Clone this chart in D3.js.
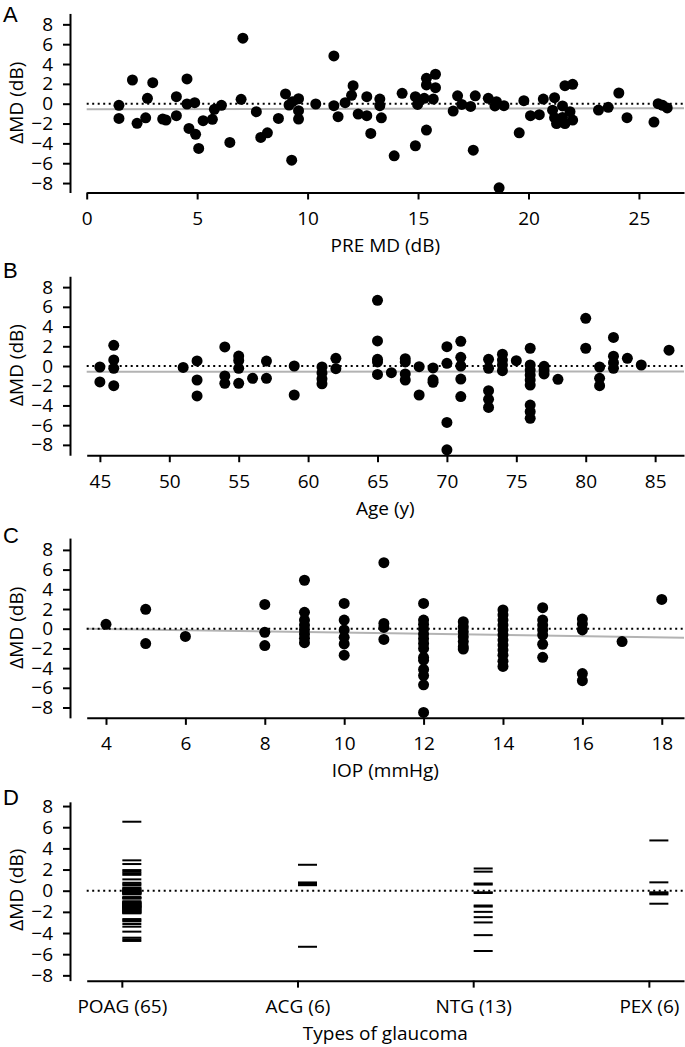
<!DOCTYPE html>
<html><head><meta charset="utf-8">
<script src="https://cdn.jsdelivr.net/npm/d3@7"></script>
<style>body{margin:0;background:#fff} text{font-family:'Open Sans',sans-serif;fill:#000}</style>
</head><body><svg id="c" width="685" height="1047"></svg>
<script>
// ---------- DATA ----------
const yTicks = [-8,-6,-4,-2,0,2,4,6,8];

// Panel A: PRE MD (dB) vs ΔMD
const preMD = [1.46,1.46,2.07,2.28,2.75,2.67,2.99,3.44,3.59,4.06,
4.06,4.54,4.54,4.89,4.63,4.93,5.07,5.27,5.69,5.78,
6.10,6.48,7.07,6.99,7.68,7.88,8.18,8.68,9.00,9.28,
9.16,9.31,9.59,9.59,9.59,10.37,11.19,11.19,11.38,11.70,
11.99,12.06,12.29,12.68,12.68,12.86,13.27,13.27,13.34,13.92,
14.28,14.88,14.88,14.98,15.28,15.38,15.38,15.38,15.69,15.79,
15.79,16.59,16.79,16.98,17.38,17.50,17.59,18.18,18.55,18.48,
18.89,18.67,19.58,19.79,20.09,20.49,20.67,21.18,21.09,21.18,
21.27,21.54,21.65,22.00,21.65,21.88,22.00,21.54,23.17,23.61,
24.09,24.46,25.68,25.87,26.07,26.28];
const deltaA = [-0.16,-1.48,2.39,-1.98,0.54,-1.42,2.12,-1.55,-1.65,0.71,
-1.21,2.50,-0.03,0.10,-2.49,-3.09,-4.51,-1.71,-1.58,-0.57,
-0.16,-3.90,6.60,0.44,-0.81,-3.40,-2.93,-1.48,0.98,-5.69,
-0.13,0.20,0.50,-0.70,-1.55,-0.03,4.82,-0.20,-1.31,0.10,
0.85,1.82,-1.04,0.71,-1.21,-3.00,0.47,-0.20,-1.42,-5.25,
1.05,-4.24,0.71,-0.07,0.54,2.56,1.89,-2.66,0.47,2.97,
1.62,-0.74,0.79,-0.07,-0.27,-4.68,0.79,0.54,0.20,-0.23,
-0.20,-8.48,-2.93,0.30,-1.21,-1.11,0.47,0.61,-0.65,-1.41,
-2.00,-0.23,1.82,1.95,-2.00,-0.81,-1.65,-1.38,-0.64,-0.37,
1.08,-1.41,-1.85,0.00,-0.16,-0.43];
const fitA = [-0.55, -0.47];      // regression line ΔMD at x-domain ends
const ticksA = [0,5,10,15,20,25];

// Panel B: Age (y) vs ΔMD
const ages = [45,45, 46,46,46,46, 51, 52,52,52, 54,54,54, 55,55,55,55, 56, 57,57, 59,59,
61,61,61,61, 62,62, 65,65,65,65,65, 66, 67,67,67,67, 68,68, 69,69,69, 70,70,70,70,
71,71,71,71,71, 73,73,73,73,73, 74,74,74,74, 75, 76,76,76,76,76,76,76,76,76,
77,77,77, 78, 80,80, 81,81,81, 82,82,82,82, 83, 84, 86];
const deltaB = [-0.10,-1.62, 2.10,0.61,-0.24,-2.00, -0.14, 0.51,-1.42,-3.04, 1.93,-1.01,-1.76,
1.01,0.57,-0.24,-1.76, -1.25, 0.50,-1.25, 0.00,-2.94,
-0.10,-0.70,-1.30,-1.80, 0.78,-0.27, 6.66,2.54,0.68,0.41,-0.85, -0.68, 0.74,0.41,-0.81,-1.42,
-0.07,-2.94, -0.20,-1.40,-1.65, 1.96,0.27,-5.72,-8.50,
2.50,0.88,0.00,-1.32,-3.10, 0.68,-0.24,-2.50,-3.38,-4.20, 1.20,0.60,0.10,-0.47, 0.54,
1.80,0.10,-0.41,-0.91,-1.42,-1.93,-3.96,-4.63,-5.31,
-0.03,-0.40,-0.80, -1.35, 4.84,1.80, -0.10,-1.25,-2.00, 2.90,1.00,0.34,-0.24, 0.78, 0.10, 1.60];
const fitB = [-0.58, -0.55];
const ticksB = [45,50,55,60,65,70,75,80,85];

// Panel C: IOP (mmHg) vs ΔMD
const iop = [4, 5,5, 6, 8,8,8, 9,9,9,9,9,9,9,9, 10,10,10,10,10,10, 11,11,11,11,
12,12,12,12,12,12,12,12,12,12,12,12,12,12, 13,13,13,13,13,13,13,
14,14,14,14,14,14,14,14,14,14,14,14, 15,15,15,15,15,15,15, 16,16,16,16,16, 17, 18];
const deltaC = [0.45, 1.97,-1.51, -0.78, 2.46,-0.36,-1.71,
4.92,1.66,0.88,0.37,-0.07,-0.54,-0.98,-1.42,
2.57,0.88,-0.13,-0.88,-1.55,-2.69, 6.70,0.54,0.13,-1.09,
2.57,0.88,0.45,-0.03,-0.54,-1.01,-1.49,-2.00,-2.90,-3.20,-4.14,-4.76,-5.70,-8.50,
0.71,0.20,-0.30,-0.81,-1.31,-1.82,-2.07,
1.90,1.39,0.88,0.37,-0.13,-0.64,-1.15,-1.66,-2.17,-2.69,-3.30,-3.83,
2.13,0.88,0.37,-0.13,-0.64,-1.58,-2.90, 0.98,0.48,-0.13,-4.56,-5.28, -1.31, 2.97];
const fitC = [0.0, -0.91];
const ticksC = [4,6,8,10,12,14,16,18];

// Panel D: types of glaucoma
const types = ["POAG (65)", "ACG (6)", "NTG (13)", "PEX (6)"];
const poag = [6.52,2.87,2.52,1.95,1.80,1.65,1.50,1.07,0.75,0.62,0.50,
0.28,0.20,0.12,0.05,0.00,-0.05,-0.10,-0.15,-0.16,-0.20,-0.25,-0.30,-0.35,
-0.60,-0.65,-0.70,-0.75,
-1.00,-1.05,-1.10,-1.15,-1.20,-1.21,-1.25,-1.30,-1.35,-1.40,-1.42,-1.45,-1.50,-1.55,-1.55,-1.60,
-1.65,-1.70,-1.75,-1.80,-1.85,-1.90,-1.95,-2.00,-2.05,-2.10,-2.14,
-2.68,-2.80,-2.90,-3.15,-3.40,-3.87,-4.44,-4.60,-4.75];
const acg = [2.45,0.78,0.68,0.60,0.52,-5.30];
const ntg = [2.10,1.80,0.68,0.58,-0.15,-0.22,-1.40,-1.50,-2.00,-2.50,-3.00,-4.20,-5.70];
const pex = [4.75,0.79,-0.15,-0.25,-0.35,-1.23];

// ---------- DRAW ----------
const svg = d3.select("#c");
const X0 = 86.7, X1 = 684, YAX = 70, FS = 19;

function frame(p) {
  const g = svg.append("g");
  const y = d3.scaleLinear().domain([p.ymin, p.ymax])
    .range([p.zero - p.ymin * p.k, p.zero - p.ymax * p.k]);
  const yb = y(p.ymin);
  // y axis
  const ya = g.append("g").attr("transform", `translate(${YAX},0)`)
    .call(d3.axisLeft(y).tickValues(yTicks).tickSize(7).tickSizeOuter(0).tickPadding(10).tickFormat(d3.format("d")));
  // x axis
  const xa = g.append("g").attr("transform", `translate(0,${yb})`)
    .call(p.xAxis.tickSize(7).tickSizeOuter(0).tickPadding(12));
  [ya, xa].forEach(a => {
    a.select(".domain").attr("stroke", "#000").attr("stroke-width", 2);
    a.selectAll(".tick line").attr("stroke", "#000").attr("stroke-width", 2);
    a.selectAll(".tick text").style("font-size", FS + "px").style("font-family", "'Open Sans',sans-serif").attr("fill", "#000");
  });
  // titles
  g.append("text").attr("x", (X0 + X1) / 2).attr("y", yb + 59.5)
    .attr("text-anchor", "middle").style("font-size", FS + "px").text(p.xTitle);
  g.append("text").attr("transform", `translate(22.5,${y(0) - 1}) rotate(-90)`)
    .attr("text-anchor", "middle").style("font-size", FS + "px").text("ΔMD (dB)");
  g.append("text").attr("x", 3).attr("y", p.letterY)
    .style("font-family", "'Liberation Sans',Arial,sans-serif").style("font-size", "22px").text(p.letter);
  // zero dotted line
  g.append("line").attr("class", "zero").attr("x1", X0).attr("x2", X1).attr("y1", y(0)).attr("y2", y(0))
    .attr("stroke", "#000").attr("stroke-width", 2).attr("stroke-dasharray", "2,3.5");
  return {g, y};
}

function scatter(p, xs, ys, fit) {
  const x = d3.scaleLinear().domain(p.xdom).range([X0, X1]);
  p.xAxis = d3.axisBottom(x).tickValues(p.ticks).tickFormat(d3.format("d"));
  const {g, y} = frame(p);
  // regression line (grey)
  g.append("line").attr("x1", x(p.xdom[0])).attr("x2", x(p.xdom[1]))
    .attr("y1", y(fit[0])).attr("y2", y(fit[1]))
    .attr("stroke", "#b3b3b3").attr("stroke-width", 2);
  g.select("line.zero").raise();
  g.append("g").selectAll("circle").data(xs.map((v, i) => [v, ys[i]])).join("circle")
    .attr("cx", d => x(d[0])).attr("cy", d => y(d[1])).attr("r", 5.5).attr("fill", "#000");
}

scatter({letter: "A", letterY: 21.5, zero: 103.7, k: 9.92, ymin: -8.95, ymax: 9.1,
  xdom: [0, 27.04], ticks: ticksA, xTitle: "PRE MD (dB)"}, preMD, deltaA, fitA);
scatter({letter: "B", letterY: 278, zero: 366, k: 9.86, ymin: -9.05, ymax: 9.1,
  xdom: [44.05, 87.08], ticks: ticksB, xTitle: "Age (y)"}, ages, deltaB, fitB);
scatter({letter: "C", letterY: 543, zero: 628.7, k: 9.85, ymin: -9.05, ymax: 9.2,
  xdom: [3.514, 18.56], ticks: ticksC, xTitle: "IOP (mmHg)"}, iop, deltaC, fitC);

// Panel D
(function () {
  const x = d3.scalePoint().domain(types).range([X0, X1]).padding(0.2);
  const p = {letter: "D", letterY: 805, zero: 890.7, k: 10.58, ymin: -8.5, ymax: 8.4,
    xTitle: "Types of glaucoma", xAxis: d3.axisBottom(x)};
  const {g, y} = frame(p);
  const groups = [poag, acg, ntg, pex];
  const segs = [];
  groups.forEach((vals, i) => vals.forEach(v => segs.push([types[i], v])));
  g.append("g").selectAll("line").data(segs).join("line")
    .attr("x1", d => x(d[0]) + 0.5).attr("x2", d => x(d[0]) + 19.5)
    .attr("y1", d => y(d[1])).attr("y2", d => y(d[1]))
    .attr("stroke", "#000").attr("stroke-width", 2);
})();
</script></body></html>
